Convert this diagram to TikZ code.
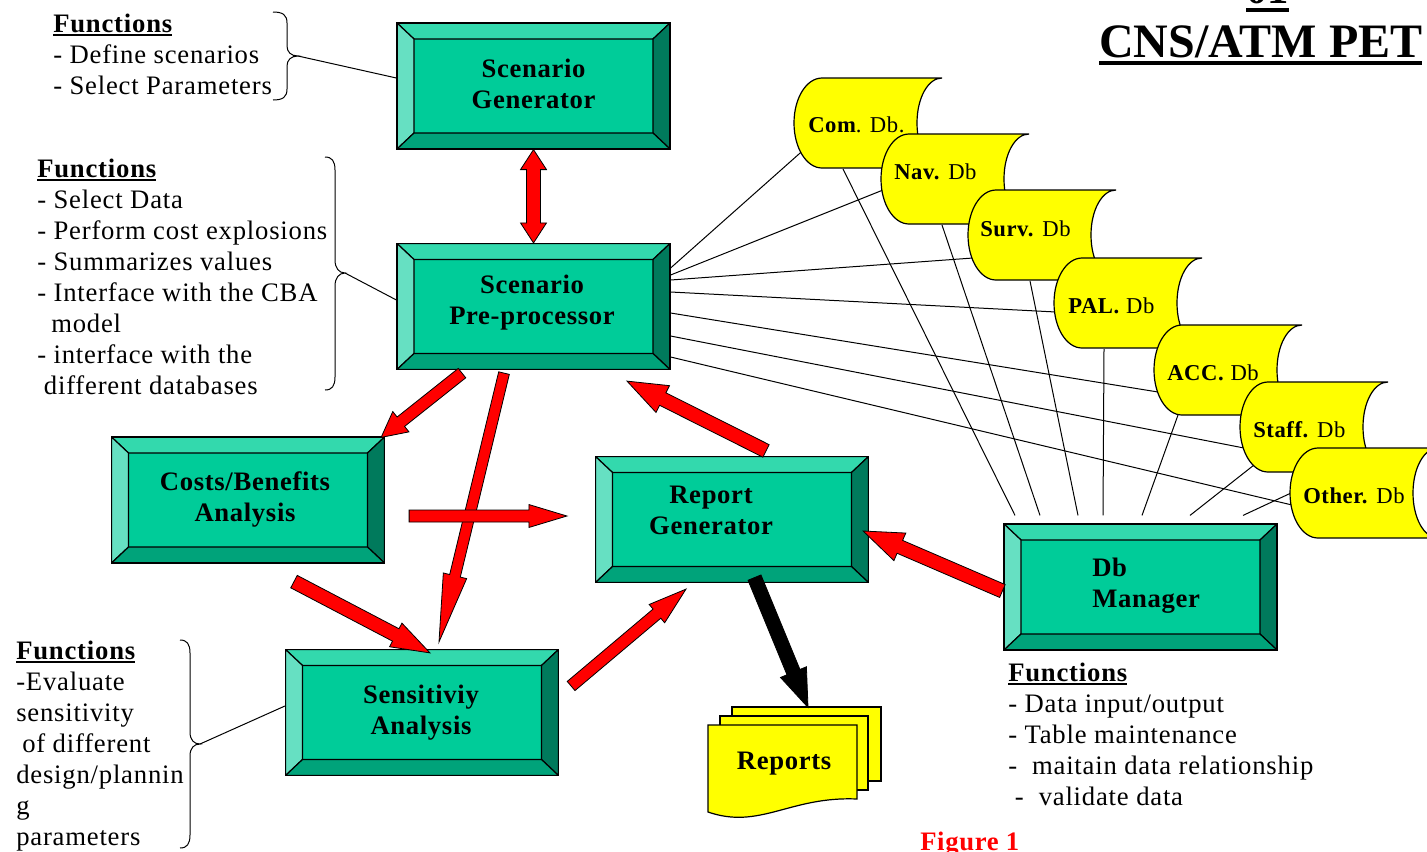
\documentclass[tikz,border=0pt]{standalone}
\usepackage{fontspec}
\setmainfont{Liberation Serif}
\newfontfamily\spaced[LetterSpace=3.0]{Liberation Serif}
\newfontfamily\spacedlbl[LetterSpace=2.5]{Liberation Serif}
\usetikzlibrary{calc}
\pgfdeclarelayer{background}
\pgfsetlayers{background,main}

\definecolor{bevface}{RGB}{0,204,153}
\definecolor{bevtop}{RGB}{51,217,173}
\definecolor{bevleft}{RGB}{102,224,194}
\definecolor{bevright}{RGB}{0,122,92}
\definecolor{bevbot}{RGB}{0,163,122}
\definecolor{dbyellow}{RGB}{255,255,0}
\definecolor{arrowred}{RGB}{255,0,0}

% underlined text: #1 = drop of rule bottom, #2 = rule thickness, #3 = text
\newcommand\undl[3]{\setbox0\hbox{#3}\rlap{\rule[-#1]{\wd0}{#2}}\box0}

\tikzset{
  bevelbox/.style={rectangle, inner sep=0pt, minimum width=204.75pt, minimum height=94.5pt,
    fill=bevface, draw=black, line width=0.9pt,
    path picture={
      \coordinate (bvNW) at (path picture bounding box.north west);
      \coordinate (bvNE) at (path picture bounding box.north east);
      \coordinate (bvSW) at (path picture bounding box.south west);
      \coordinate (bvSE) at (path picture bounding box.south east);
      \filldraw[fill=bevtop, draw=black, line width=0.9pt] (bvNW) -- (bvNE) -- ([shift={(-17,16)}]bvNE) -- ([shift={(17,16)}]bvNW) -- cycle;
      \filldraw[fill=bevleft, draw=black, line width=0.9pt] (bvNW) -- ([shift={(17,16)}]bvNW) -- ([shift={(17,-16)}]bvSW) -- (bvSW) -- cycle;
      \filldraw[fill=bevright, draw=black, line width=0.9pt] (bvNE) -- (bvSE) -- ([shift={(-17,-16)}]bvSE) -- ([shift={(-17,16)}]bvNE) -- cycle;
      \filldraw[fill=bevbot, draw=black, line width=0.9pt] (bvSW) -- (bvSE) -- ([shift={(-17,-16)}]bvSE) -- ([shift={(17,-16)}]bvSW) -- cycle;
    }},
  boxlabel/.style={inner sep=0pt, align=center, font=\spacedlbl\bfseries\fontsize{20}{23.25}\selectfont},
  fnblock/.style={inner sep=0pt, anchor=north west, align=left, font=\spaced\fontsize{20}{23.25}\selectfont},
  dbshape/.style={fill=dbyellow, draw=black, line width=0.9pt},
  dblabel/.style={inner sep=0pt, anchor=west, font=\spacedlbl\fontsize{17}{20}\selectfont},
  pagebox/.style={rectangle, inner sep=0pt, fill=dbyellow, draw=black, line width=0.9pt},
  thinline/.style={draw=black, line width=0.75pt},
  bracepath/.style={draw=black, line width=0.75pt},
  redarrow/.style={fill=arrowred, draw=black, line width=0.6pt, line join=miter},
  blackarrow/.style={fill=black, draw=black, line width=0.6pt, line join=miter},
  % single-headed block arrow: shaft half width, head half width, head length
  blockarrow/.style n args={3}{to path={
    let \p1=(\tikztostart), \p2=(\tikztotarget),
        \n1={atan2(\y2-\y1,\x2-\x1)}, \n2={veclen(\x2-\x1,\y2-\y1)} in
    ($(\p1)+(\n1+90:#1)$)
    -- ($(\p1)+(\n1:{\n2*1pt-#3})+(\n1+90:#1)$)
    -- ($(\p1)+(\n1:{\n2*1pt-#3})+(\n1+90:#2)$)
    -- (\p2)
    -- ($(\p1)+(\n1:{\n2*1pt-#3})+(\n1-90:#2)$)
    -- ($(\p1)+(\n1:{\n2*1pt-#3})+(\n1-90:#1)$)
    -- ($(\p1)+(\n1-90:#1)$) -- cycle}},
  % double-headed block arrow
  twinarrow/.style n args={3}{to path={
    let \p1=(\tikztostart), \p2=(\tikztotarget),
        \n1={atan2(\y2-\y1,\x2-\x1)}, \n2={veclen(\x2-\x1,\y2-\y1)} in
    (\p1)
    -- ($(\p1)+(\n1:#3)+(\n1+90:#2)$)
    -- ($(\p1)+(\n1:#3)+(\n1+90:#1)$)
    -- ($(\p1)+(\n1:{\n2*1pt-#3})+(\n1+90:#1)$)
    -- ($(\p1)+(\n1:{\n2*1pt-#3})+(\n1+90:#2)$)
    -- (\p2)
    -- ($(\p1)+(\n1:{\n2*1pt-#3})+(\n1-90:#2)$)
    -- ($(\p1)+(\n1:{\n2*1pt-#3})+(\n1-90:#1)$)
    -- ($(\p1)+(\n1:#3)+(\n1-90:#1)$)
    -- ($(\p1)+(\n1:#3)+(\n1-90:#2)$) -- cycle}},
  dbtape/.pic={
    \filldraw[dbshape] (28,0) -- (148,0) .. controls (134,0) and (123,20) .. (123,45)
      .. controls (123,70) and (134,90) .. (148,90) -- (28,90)
      .. controls (12.5,90) and (0,70) .. (0,45) .. controls (0,20) and (12.5,0) .. (28,0) -- cycle;
  },
}

\begin{document}
\begin{tikzpicture}[x=0.75pt, y=-0.75pt]
\useasboundingbox (0,0) rectangle (1427,851);
\clip (0,0) rectangle (1427,851);

% ---- headings ----
\node[inner sep=0pt, anchor=base, font=\bfseries\fontsize{32}{36}\selectfont] (pageno) at (1267.5,3) {\undl{6.75pt}{3pt}{01}};
\node[inner sep=0pt, anchor=base west, font=\bfseries\fontsize{36}{40}\selectfont] (title) at (1099,57) {\undl{6pt}{3pt}{CNS/ATM PET}};
\node[inner sep=0pt, anchor=base west, text=arrowred, font=\spacedlbl\bfseries\fontsize{20}{23.25}\selectfont] (figno) at (920,850) {Figure 1};

% ---- bevelled process boxes ----
\node[bevelbox] (gen) at (533.5,86) {};
\node[bevelbox] (pre) at (533.5,306.5) {};
\node[bevelbox] (cba) at (248,500) {};
\node[bevelbox] (rep) at (732,519.5) {};
\node[bevelbox] (sen) at (422,712.5) {};
\node[bevelbox] (mgr) at (1140.5,587) {};

\node[boxlabel] (gen-t) at (533.5,87) {Scenario\strut\\Generator\strut};
\node[boxlabel] (pre-t) at (532,303) {Scenario\strut\\Pre-processor\strut};
\node[boxlabel] (cba-t) at (245,500) {Costs/Benefits\strut\\Analysis\strut};
\node[boxlabel] (rep-t) at (711,513) {Report\strut\\Generator\strut};
\node[boxlabel] (sen-t) at (421,713) {Sensitiviy\strut\\Analysis\strut};
\node[boxlabel, anchor=west, align=left] (mgr-t) at (1092,586) {Db\strut\\Manager\strut};

% ---- databases ----
\begin{scope}[shift={(794,78)}]
  \pic {dbtape};
  \node[dblabel] (com) at (14,47) {\textbf{Com}. Db.};
  \coordinate (com-l) at (14,68);
  \coordinate (com-b) at (49,91);
\end{scope}
\begin{scope}[shift={(881,134)}]
  \pic {dbtape};
  \node[dblabel] (nav) at (13,38) {\textbf{Nav.} Db};
  \coordinate (nav-l) at (2,56);
  \coordinate (nav-b) at (61,91);
\end{scope}
\begin{scope}[shift={(968,190)}]
  \pic {dbtape};
  \node[dblabel] (surv) at (12,39) {\textbf{Surv.} Db};
  \coordinate (surv-l) at (5,68);
  \coordinate (surv-b) at (62,91);
\end{scope}
\begin{scope}[shift={(1054,258)}]
  \pic {dbtape};
  \node[dblabel] (pal) at (14,48) {\textbf{PAL.} Db};
  \coordinate (pal-l) at (2,54);
  \coordinate (pal-b) at (50,91);
\end{scope}
\begin{scope}[shift={(1154,325)}]
  \pic {dbtape};
  \node[dblabel] (acc) at (13,48) {\textbf{ACC.} Db};
  \coordinate (acc-l) at (4,67);
  \coordinate (acc-b) at (24,90);
\end{scope}
\begin{scope}[shift={(1240,382)}]
  \pic {dbtape};
  \node[dblabel] (staff) at (13,48) {\textbf{Staff.} Db};
  \coordinate (staff-l) at (4,66);
  \coordinate (staff-b) at (14,83);
\end{scope}
\begin{scope}[shift={(1290,448)}]
  \pic {dbtape};
  \node[dblabel] (other) at (13,48) {\textbf{Other.} Db};
  \coordinate (other-l) at (2,57);
  \coordinate (other-b) at (1,45);
\end{scope}

% ---- reports stack ----
\node[pagebox, minimum width=111.75pt, minimum height=55.5pt] (rp3) at (806.5,744) {};
\node[pagebox, minimum width=111pt, minimum height=55.5pt] (rp2) at (794,753) {};
\filldraw[dbshape] (708,725) -- (857,725) -- (857,799)
  .. controls (790,796) and (760,830) .. (708,812) -- cycle;
\node[boxlabel] (reports) at (784,764) {Reports};

% ---- function lists and braces ----
\node[fnblock] (fn1) at (53,10.3) {\undl{3pt}{1.5pt}{\bfseries Functions}\strut\\- Define scenarios\strut\\- Select Parameters\strut};
\node[fnblock] (fn2) at (37,155.3) {\undl{3pt}{1.5pt}{\bfseries Functions}\strut\\- Select Data\strut\\- Perform cost explosions\strut\\- Summarizes values\strut\\- Interface with the CBA\strut\\\hspace*{10.5pt}model\strut\\- interface with the\strut\\\hspace*{5pt}different databases\strut};
\node[fnblock] (fn3) at (16,637.3) {\undl{3pt}{1.5pt}{\bfseries Functions}\strut\\-Evaluate\strut\\sensitivity\strut\\\hspace*{4.5pt}of different\strut\\design/plannin\strut\\g\strut\\parameters\strut};
\node[fnblock] (fn4) at (1008,659.3) {\undl{3pt}{1.5pt}{\bfseries Functions}\strut\\- Data input/output\strut\\- Table maintenance\strut\\-\ \ maitain data relationship\strut\\\hspace*{5pt}-\ \ validate data\strut};

\path[bracepath] (273,12) .. controls (283,12) and (287,15) .. (287,23) -- (287,46)
  .. controls (287,52) and (291,56) .. (298,56) coordinate (br1)
  .. controls (291,56) and (287,60) .. (287,66) -- (287,89)
  .. controls (287,97) and (283,100) .. (273,100);
\path[bracepath] (325,157) .. controls (332,157) and (335,161) .. (335,170) -- (335,260)
  .. controls (335,268) and (339,273) .. (345,273) coordinate (br2)
  .. controls (339,273) and (335,278) .. (335,286) -- (335,377)
  .. controls (335,386) and (332,390) .. (325,390);
\path[bracepath] (180,640) .. controls (187,640) and (190,644) .. (190,653) -- (190,732)
  .. controls (190,740) and (194,744) .. (200,744) coordinate (br3)
  .. controls (194,744) and (190,748) .. (190,756) -- (190,835)
  .. controls (190,844) and (187,848) .. (180,848);

% ---- thin connectors (behind everything) ----
\begin{pgfonlayer}{background}
  \draw[thinline] (br1) -- ([shift={(0,-8)}]gen.west);
  \draw[thinline] (br2) -- ([shift={(0,-6.5)}]pre.west);
  \draw[thinline] (br3) -- ([shift={(0,-6.5)}]sen.west);
  \draw[thinline] ([shift={(0,-38.5)}]pre.east) -- (com-l);
  \draw[thinline] ([shift={(0,-31.5)}]pre.east) -- (nav-l);
  \draw[thinline] ([shift={(0,-26.5)}]pre.east) -- (surv-l);
  \draw[thinline] ([shift={(0,-14.5)}]pre.east) -- (pal-l);
  \draw[thinline] ([shift={(0,6.5)}]pre.east) -- (acc-l);
  \draw[thinline] ([shift={(0,29.5)}]pre.east) -- (staff-l);
  \draw[thinline] ([shift={(0,50.5)}]pre.east) -- (other-l);
  \draw[thinline] (com-b) -- ([shift={(-125.5,-8)}]mgr.north);
  \draw[thinline] (nav-b) -- ([shift={(-100.5,-8)}]mgr.north);
  \draw[thinline] (surv-b) -- ([shift={(-62.5,-8)}]mgr.north);
  \draw[thinline] (pal-b) -- ([shift={(-37.5,-8)}]mgr.north);
  \draw[thinline] (acc-b) -- ([shift={(1.5,-8)}]mgr.north);
  \draw[thinline] (staff-b) -- ([shift={(49.5,-8)}]mgr.north);
  \draw[thinline] (other-b) -- ([shift={(102.5,-8)}]mgr.north);
\end{pgfonlayer}

% ---- block arrows ----
\draw[redarrow, twinarrow={5.25pt}{9.75pt}{15pt}] (gen.south) to (pre.north);
\draw[redarrow, blockarrow={4.5pt}{9.75pt}{18.75pt}] ([shift={(-71.5,3)}]pre.south) to ([shift={(-4,1)}]cba.north east);
\draw[redarrow, blockarrow={4.1pt}{9pt}{51pt}] ([shift={(-29.5,3)}]pre.south) to ([shift={(17,-7)}]sen.north);
\draw[redarrow, blockarrow={5.25pt}{11.25pt}{30pt}] ([shift={(34,-5)}]rep.north) to ([shift={(93.5,11)}]pre.south);
\draw[redarrow, blockarrow={4.5pt}{8.6pt}{28.5pt}] ([shift={(24,16)}]cba.east) to ([shift={(-28,-3.5)}]rep.west);
\draw[redarrow, blockarrow={5.25pt}{10pt}{29pt}] ([shift={(46,18)}]cba.south) to ([shift={(8,4)}]sen.north);
\draw[redarrow, blockarrow={4.5pt}{9pt}{28.5pt}] ([shift={(12,-26.5)}]sen.east) to ([shift={(-46,6)}]rep.south);
\draw[redarrow, blockarrow={5.25pt}{11.25pt}{30pt}] ([shift={(-1,4)}]mgr.west) to ([shift={(-6,11.5)}]rep.east);
\draw[blackarrow, blockarrow={5.25pt}{10.5pt}{28.5pt}] ([shift={(22.5,-5.5)}]rep.south) to ([shift={(1.5,1)}]rp3.north);

\end{tikzpicture}
\end{document}
